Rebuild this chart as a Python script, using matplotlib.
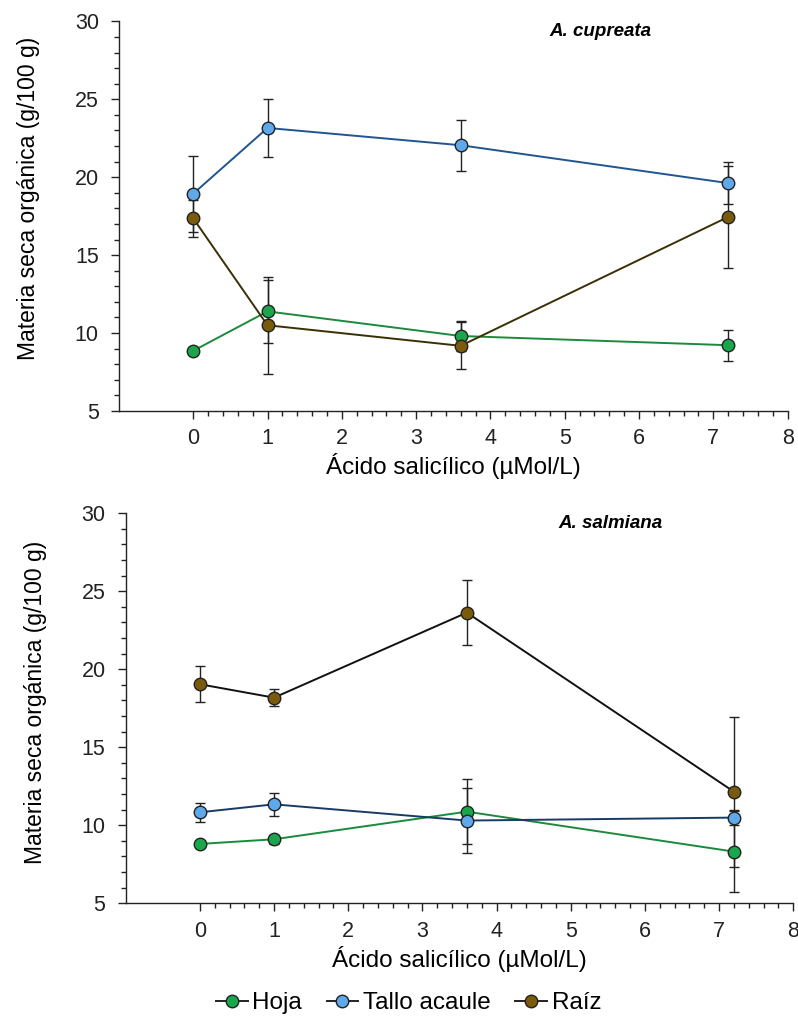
import matplotlib
matplotlib.use("Agg")
import matplotlib.pyplot as plt
from matplotlib.ticker import MultipleLocator
from matplotlib.lines import Line2D

plt.rcParams['font.family'] = ['Liberation Sans', 'DejaVu Sans']

x = [0, 1, 3.6, 7.2]
series = ["Hoja", "Tallo acaule", "Raíz"]

# A. cupreata
cup_hoja = [8.86, 11.39, 9.81, 9.22]
cup_hoja_err = [0.2, 2.0, 0.95, 1.0]
cup_tallo = [18.94, 23.16, 22.05, 19.62]
cup_tallo_err = [2.43, 1.85, 1.65, 1.36]
cup_raiz = [17.36, 10.5, 9.18, 17.45]
cup_raiz_err = [1.2, 3.1, 1.5, 3.3]

# A. salmiana
sal_hoja = [8.8, 9.1, 10.87, 8.31]
sal_hoja_err = [0.15, 0.3, 2.1, 2.58]
sal_tallo = [10.83, 11.34, 10.3, 10.49]
sal_tallo_err = [0.6, 0.75, 2.06, 0.5]
sal_raiz = [19.04, 18.18, 23.63, 12.15]
sal_raiz_err = [1.15, 0.55, 2.08, 4.8]

fill = {"Hoja": "#1aa64a", "Tallo acaule": "#5fa8ea", "Raíz": "#7a5a0c"}
line_top = {"Hoja": "#1b8a3c", "Tallo acaule": "#1f5590", "Raíz": "#3b2f05"}
line_bot = {"Hoja": "#1b8a3c", "Tallo acaule": "#1a3a66", "Raíz": "#111111"}

fig = plt.figure(figsize=(7.98, 10.16), dpi=100)
ax1 = fig.add_axes([0.149, 0.5955, 0.838, 0.3835])
ax2 = fig.add_axes([0.1575, 0.111, 0.8365, 0.3838])


def draw(ax, data, lines, title, tx, ty, ylab_y):
    for name, (vals, errs) in zip(series, data):
        ax.errorbar(x, vals, yerr=errs, fmt='none', ecolor='#222222',
                    elinewidth=1.0, capsize=3.5, capthick=1.0, zorder=1)
    for name, (vals, errs) in zip(series, data):
        ax.plot(x, vals, color=lines[name], lw=1.4, marker='o', ms=9,
                mfc=fill[name], mec='#222222', mew=1.0, zorder=3)
    ax.set_xlim(-1, 8)
    ax.set_ylim(5, 30)
    ax.set_xticks(range(0, 9))
    ax.set_yticks([5, 10, 15, 20, 25, 30])
    ax.set_xticks([i * 0.2 for i in range(0, 41)], minor=True)
    ax.yaxis.set_minor_locator(MultipleLocator(1))
    for s in ['top', 'right']:
        ax.spines[s].set_visible(False)
    for s in ['left', 'bottom']:
        ax.spines[s].set_color('#222222')
        ax.spines[s].set_linewidth(1.0)
    ax.tick_params(axis='both', which='major', direction='out', length=5.5,
                   width=1.0, labelsize=15.5, colors='#222222')
    ax.tick_params(axis='both', which='minor', direction='out', length=3.5,
                   width=1.0, colors='#222222')
    ax.tick_params(axis='y', which='major', pad=9)
    ax.tick_params(axis='x', which='major', pad=7)
    ax.set_xlabel('Ácido salicílico (µMol/L)', fontsize=17.5, labelpad=3)
    ax.set_ylabel('Materia seca orgánica (g/100 g)', fontsize=16.5)
    ax.yaxis.set_label_coords(-0.118, ylab_y)
    ax.text(tx, ty, title, transform=ax.transData, fontsize=13.5,
            fontweight='bold', fontstyle='italic', ha='center', va='center')


draw(ax1, [(cup_hoja, cup_hoja_err), (cup_tallo, cup_tallo_err), (cup_raiz, cup_raiz_err)],
     line_top, 'A. cupreata', 5.48, 29.36, 0.546)
draw(ax2, [(sal_hoja, sal_hoja_err), (sal_tallo, sal_tallo_err), (sal_raiz, sal_raiz_err)],
     line_bot, 'A. salmiana', 5.53, 29.36, 0.516)

handles = [Line2D([0], [0], color='#222222', lw=1.4, marker='o', ms=9,
                  mfc=fill[n], mec='#222222', mew=1.0) for n in series]
fig.legend(handles, series, loc='center', bbox_to_anchor=(0.512, 0.0125), ncol=3,
           frameon=False, fontsize=17.5, handlelength=1.3, handletextpad=0.2,
           columnspacing=1.0, borderpad=0.0)

fig.savefig('out.png', dpi=100, facecolor='white')
